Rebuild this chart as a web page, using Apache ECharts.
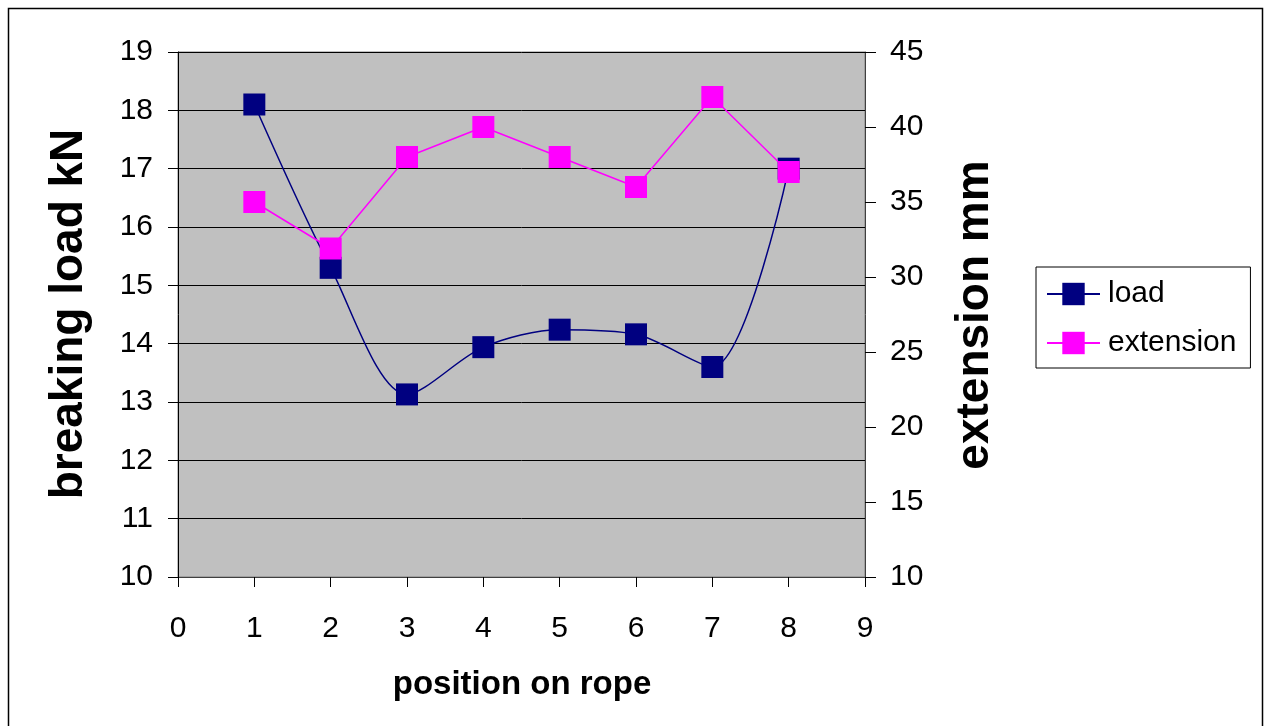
<!DOCTYPE html>
<html>
<head>
<meta charset="utf-8">
<script src="https://cdn.jsdelivr.net/npm/echarts@6/dist/echarts.min.js"></script>
<style>
  html, body { margin: 0; padding: 0; background: #fff; }
  #chart { width: 1269px; height: 726px; }
</style>
</head>
<body>
<div id="chart"></div>
<script>
// Rope test: breaking load and extension at each position along the rope
const positions = [1, 2, 3, 4, 5, 6, 7, 8];
const loadKN = [18.1, 15.3, 13.13, 13.94, 14.24, 14.16, 13.6, 17.0];
const extensionMM = [35, 31.9, 38, 40, 38, 36, 42, 37];

const FONT = "'Liberation Sans', Arial, sans-serif";

const toPairs = (xs, ys) => xs.map((x, i) => [x, ys[i]]);

const chart = echarts.init(document.getElementById('chart'), null, { renderer: 'canvas' });

chart.setOption({
  backgroundColor: '#ffffff',
  animation: false,
  textStyle: { fontFamily: FONT },
  grid: {
    left: 178, top: 52, right: 404, bottom: 149,
    show: true,
    backgroundColor: '#c0c0c0',
    borderColor: '#808080',
    borderWidth: 1
  },
  legend: {
    orient: 'vertical',
    left: 1036, top: 267,
    padding: [12, 14, 10, 10],
    itemGap: 19,
    itemWidth: 53,
    itemHeight: 28,
    borderColor: '#000',
    borderWidth: 1,
    backgroundColor: '#fff',
    textStyle: { fontSize: 30, color: '#000', fontFamily: FONT, padding: [0, 0, 0, 3] },
    data: ['load', 'extension']
  },
  xAxis: {
    type: 'value',
    min: 0, max: 9, interval: 1,
    axisLine: { show: true, onZero: false, lineStyle: { color: '#404040', width: 1 } },
    axisTick: { show: true, inside: false, length: 10, lineStyle: { color: '#000' } },
    axisLabel: { fontSize: 30, color: '#000', margin: 37, fontFamily: FONT },
    splitLine: { show: false }
  },
  yAxis: [
    {
      type: 'value',
      min: 10, max: 19, interval: 1,
      axisLine: { show: true, lineStyle: { color: '#000', width: 1 } },
      axisTick: { show: true, inside: false, length: 10, lineStyle: { color: '#000' } },
      axisLabel: { fontSize: 30, color: '#000', margin: 25, fontFamily: FONT },
      splitLine: { show: true, lineStyle: { color: '#000', width: 1 } }
    },
    {
      type: 'value',
      position: 'right',
      min: 10, max: 45, interval: 5,
      axisLine: { show: true, lineStyle: { color: '#404040', width: 1 } },
      axisTick: { show: true, inside: false, length: 11, lineStyle: { color: '#000' } },
      axisLabel: { fontSize: 30, color: '#000', margin: 25, fontFamily: FONT },
      splitLine: { show: false }
    }
  ],
  series: [
    {
      name: 'load',
      type: 'line',
      yAxisIndex: 0,
      data: toPairs(positions, loadKN),
      smooth: 0.3,
      symbol: 'rect',
      symbolSize: 22,
      itemStyle: { color: '#000080' },
      lineStyle: { color: '#000080', width: 1.5 },
      z: 2
    },
    {
      name: 'extension',
      type: 'line',
      yAxisIndex: 1,
      data: toPairs(positions, extensionMM),
      symbol: 'rect',
      symbolSize: 22,
      itemStyle: { color: '#ff00ff' },
      lineStyle: { color: '#ff00ff', width: 1.5 },
      z: 3
    }
  ],
  graphic: [
    {
      type: 'rect',
      shape: { x: 8.5, y: 8.5, width: 1254, height: 740 },
      style: { fill: 'none', stroke: '#000', lineWidth: 1.5 },
      silent: true, z: 100
    },
    {
      type: 'text',
      x: 69, y: 314,
      rotation: Math.PI / 2,
      style: {
        text: 'breaking load kN',
        font: 'bold 46px ' + FONT,
        fill: '#000',
        textAlign: 'center',
        textVerticalAlign: 'middle'
      }
    },
    {
      type: 'text',
      x: 975, y: 315,
      rotation: Math.PI / 2,
      style: {
        text: 'extension mm',
        font: 'bold 46px ' + FONT,
        fill: '#000',
        textAlign: 'center',
        textVerticalAlign: 'middle'
      }
    },
    {
      type: 'text',
      x: 522, y: 685,
      style: {
        text: 'position on rope',
        font: 'bold 33px ' + FONT,
        fill: '#000',
        textAlign: 'center',
        textVerticalAlign: 'middle'
      }
    }
  ]
});
</script>
</body>
</html>
